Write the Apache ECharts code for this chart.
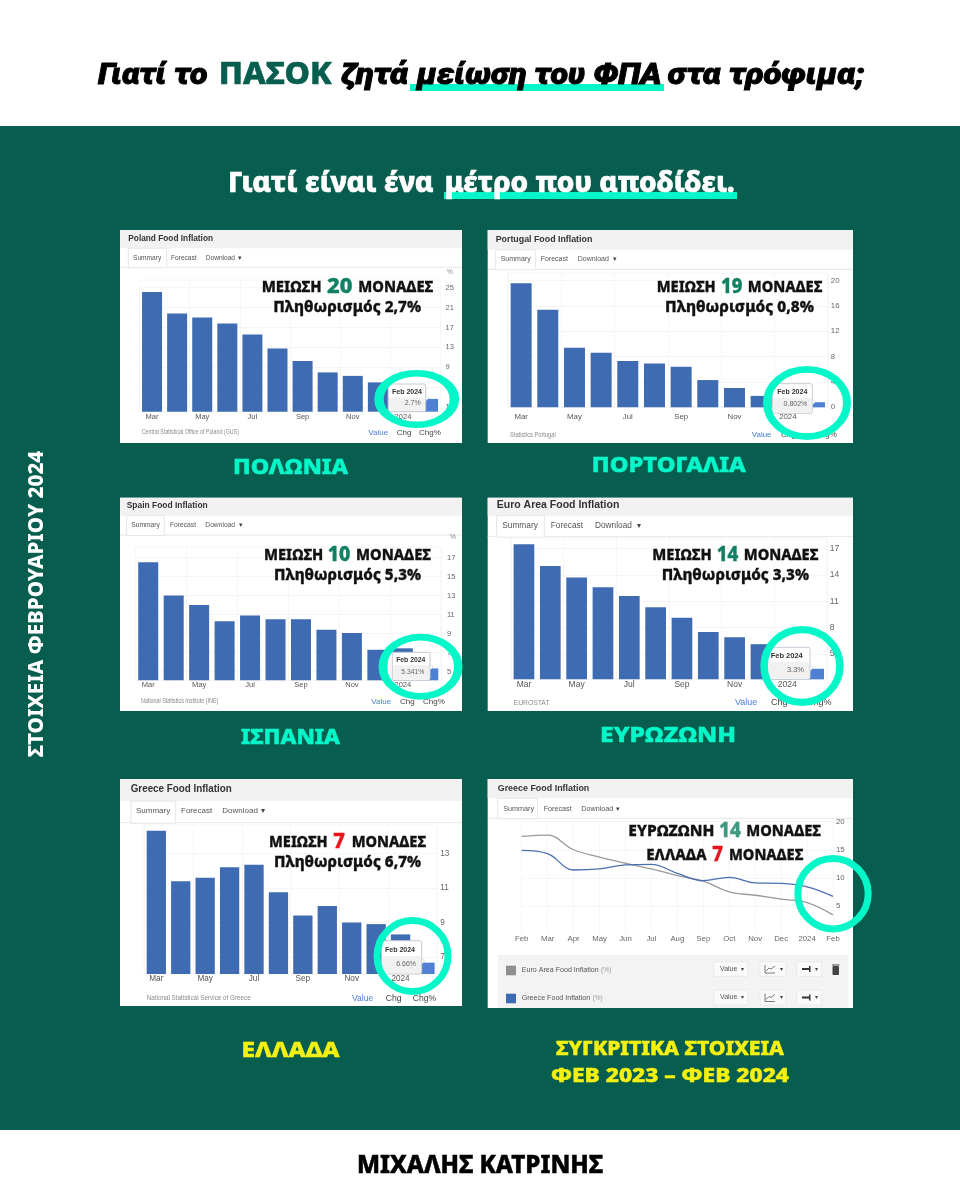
<!DOCTYPE html>
<html lang="el">
<head>
<meta charset="utf-8">
<title>Γιατί το ΠΑΣΟΚ ζητά μείωση του ΦΠΑ στα τρόφιμα;</title>
<style>
  html, body { margin: 0; padding: 0; background: #fff; }
  #chart { width: 960px; height: 1200px; }
</style>
</head>
<body>
<div id="chart"></div>
<script src="https://cdn.jsdelivr.net/npm/echarts@6/dist/echarts.min.js"></script>
<script>
// values
const barMonths = ["Mar", "Apr", "May", "Jun", "Jul", "Aug", "Sep", "Oct", "Nov", "Dec", "2024", "Feb"];
const lineMonths = ["Feb", "Mar", "Apr", "May", "Jun", "Jul", "Aug", "Sep", "Oct", "Nov", "Dec", "2024", "Feb"];

const polandValues = [24.1, 19.8, 19.0, 17.8, 15.6, 12.8, 10.3, 8.0, 7.3, 6.0, 3.9, 2.7];
const portugalValues = [19.6, 15.4, 9.4, 8.6, 7.3, 6.9, 6.4, 4.3, 3.05, 1.8, 1.4, 0.802];
const spainValues = [16.5, 13.0, 12.0, 10.3, 10.9, 10.5, 10.5, 9.4, 9.05, 7.3, 7.45, 5.341];
const euroValues = [17.5, 15.0, 13.7, 12.6, 11.6, 10.3, 9.1, 7.5, 6.9, 6.1, 5.6, 3.3];
const greeceValues = [14.33, 11.39, 11.6, 12.2, 12.35, 10.75, 9.4, 9.95, 9.0, 8.9, 8.3, 6.66];

const compareEuro = [17.4, 17.6, 15.0, 13.7, 12.6, 11.6, 10.4, 9.4, 7.5, 6.9, 6.2, 5.6, 3.4];
const compareGreece = [14.9, 14.3, 11.4, 11.6, 12.3, 12.4, 10.8, 9.5, 10.1, 9.1, 9.0, 8.4, 6.7];

const polandTicks = [1, 5, 9, 13, 17, 21, 25];
const portugalTicks = [0, 4, 8, 12, 16, 20];
const spainTicks = [5, 7, 9, 11, 13, 15, 17];
const euroTicks = [5, 8, 11, 14, 17];
const greeceTicks = [7, 9, 11, 13];
const compareTicks = [5, 10, 15, 20];

const GREEN = "#075e4e";
const TEAL = "#05f7c9";
const YELLOW = "#f4f012";
const BLUE = "#3e6bb1";
const GRIDLINE = "#f6f6f6";
const CAPS = "'Noto Sans', 'Open Sans', sans-serif";
const UI = "'Liberation Sans', Arial, sans-serif";

const graphics = [];
const grids = [];
const xAxes = [];
const yAxes = [];
const series = [];

const measureCtx = document.createElement("canvas").getContext("2d");

// text squeezed to the width it has in the picture
function fitText(text, x0, x1, cy, size, color, opts) {
  opts = opts || {};
  const weight = opts.weight || "bold";
  const style = opts.italic ? "italic" : "normal";
  const family = opts.family || CAPS;
  measureCtx.font = `${style} ${weight} ${size}px ${family}`;
  const w = measureCtx.measureText(text).width;
  graphics.push({
    type: "text",
    z: opts.z || 30,
    x: x0,
    y: cy,
    scaleX: (x1 - x0) / w,
    style: {
      text: text,
      fill: color,
      stroke: opts.heavy ? color : null,
      lineWidth: opts.heavy || 0,
      fontSize: size,
      fontWeight: weight,
      fontStyle: style,
      fontFamily: family,
      align: "left",
      verticalAlign: "middle",
    },
  });
}

function plainText(text, x, cy, size, color, opts) {
  opts = opts || {};
  graphics.push({
    type: "text",
    z: opts.z || 5,
    x: x,
    y: cy,
    style: {
      text: text,
      fill: color,
      fontSize: size,
      fontWeight: opts.weight || "normal",
      fontFamily: UI,
      align: opts.align || "left",
      verticalAlign: "middle",
    },
  });
}

function box(x0, y0, x1, y1, fill, z, stroke, r) {
  graphics.push({
    type: "rect",
    z: z,
    shape: { x: x0, y: y0, width: x1 - x0, height: y1 - y0, r: r || 0 },
    style: { fill: fill, stroke: stroke || null, lineWidth: stroke ? 1 : 0 },
  });
}

// circle squashed to an ellipse, so the stroke gets thin at top and bottom like the picture
function ring(cx, cy, rx, ry, lw) {
  graphics.push({
    type: "circle",
    z: 40,
    x: cx,
    y: cy,
    scaleY: ry / rx,
    shape: { cx: 0, cy: 0, r: rx - lw / 2 },
    style: { fill: null, stroke: TEAL, lineWidth: lw },
  });
}

// site chrome shared by all six screenshots
function chrome(p) {
  box(p.x0, p.y0, p.x1, p.y1, "#ffffff", -5);
  box(p.x0, p.y0, p.x1, p.rowY, "#f2f2f2", -4);
  graphics.push({
    type: "line",
    z: -3,
    shape: { x1: p.x0, y1: p.tabBottom, x2: p.x1, y2: p.tabBottom },
    style: { stroke: "#e6e6e6", lineWidth: 1 },
  });
  box(p.tabX0, p.rowY, p.tabX1, p.tabBottom + 0.5, "#ffffff", -2, "#e6e6e6");
  fitText(p.title, p.titleX0, p.titleX1, p.titleY, p.titleFont, "#333333", { family: UI, z: 5 });
  plainText("Summary", p.summaryX, p.tabY, p.tabFont, "#555555");
  plainText("Forecast", p.forecastX, p.tabY, p.tabFont, "#555555");
  plainText("Download", p.downloadX, p.tabY, p.tabFont, "#555555");
  plainText("▾", p.caretX, p.tabY, p.tabFont, "#444444", { align: "center" });
}

function footer(p) {
  fitText(p.source, p.sourceX0, p.sourceX1, p.footY, 7, "#8a8a8a", { family: UI, weight: "normal", z: 5 });
  plainText("Value", p.valueX, p.footY, p.footFont, "#4a7fd4");
  plainText("Chg", p.chgX, p.footY, p.footFont, "#444444");
  plainText("Chg%", p.chgPctX, p.footY, p.footFont, "#444444");
}

function tooltipBox(t) {
  box(t.x0, t.y0, t.x1, t.y1, "#ffffff", 20, "#c4cbd4", 2);
  box(t.x0 + 1, t.midY, t.x1 - 1, t.y1 - 1, "#f1f1f1", 21);
  graphics.push({
    type: "polygon",
    z: 21,
    shape: { points: [[t.x1, t.arrowY - 3], [t.x1 + 3, t.arrowY], [t.x1, t.arrowY + 3]] },
    style: { fill: "#ffffff", stroke: "#c4cbd4", lineWidth: 0.6 },
  });
  plainText("Feb 2024", t.titleX, t.titleY, t.font, "#333333", { z: 22, weight: "bold", align: "center" });
  plainText(t.label, t.valueX, t.valueY, t.font, "#666666", { z: 22, align: "right" });
}

// overlay caption: word, big number, word, then a second line
function caption(c) {
  fitText(c.word, c.wordX0, c.wordX1, c.y + 0.5, 15, "#111111", { weight: 800, heavy: 0.3 });
  fitText(c.num, c.numX0, c.numX1, c.y - 0.3, 21, c.numColor, { weight: 800, heavy: 0.4 });
  fitText("ΜΟΝΑΔΕΣ", c.unitX0, c.unitX1, c.y + 0.5, 15, "#111111", { weight: 800, heavy: 0.3 });
  if (c.line2) fitText(c.line2, c.line2X0, c.line2X1, c.line2Y + 0.5, 15, "#111111", { weight: 800, heavy: 0.3 });
}

function addBarPanel(values, ticks, p) {
  const i = grids.length;
  grids.push({
    show: true,
    backgroundColor: "transparent",
    borderColor: GRIDLINE,
    borderWidth: 1,
    left: p.gridLeft,
    top: p.gridTop,
    width: p.gridRight - p.gridLeft,
    height: p.gridBottom - p.gridTop,
  });
  xAxes.push({
    type: "category",
    gridIndex: i,
    data: barMonths,
    axisLine: { show: false },
    axisTick: { show: false },
    splitLine: { show: true, interval: 1, lineStyle: { color: GRIDLINE } },
    axisLabel: { interval: 1, fontSize: p.axisFont, color: "#555555", fontFamily: UI, margin: p.labelGap },
  });
  yAxes.push({
    type: "value",
    gridIndex: i,
    position: "right",
    min: p.min,
    max: p.max,
    axisLine: { show: false },
    axisTick: { show: false, customValues: ticks },
    splitLine: { lineStyle: { color: GRIDLINE } },
    axisLabel: {
      customValues: ticks,
      fontSize: p.axisFont,
      color: "#666666",
      fontFamily: UI,
      margin: p.tickGap,
      padding: [0, 0, 3, 0],
    },
  });
  series.push({
    type: "bar",
    name: p.title,
    xAxisIndex: i,
    yAxisIndex: i,
    barWidth: p.barWidth,
    itemStyle: { color: BLUE },
    data: values.map((v, k) => (k === values.length - 1 ? { value: v, itemStyle: { color: "#4f80d3" } } : v)),
  });
  chrome(p);
  footer(p);
}

// page frame
box(0, 126, 960, 1130, GREEN, -10);
const headItalic = { weight: 900, italic: true, family: "Roboto", heavy: 0.9 };
fitText("Γιατί το", 98, 207.6, 76, 30, "#000000", headItalic);
fitText("ΠΑΣΟΚ", 218.8, 331.5, 75.5, 31, GREEN, { weight: 800, heavy: 0.6 });
fitText("ζητά", 341, 408, 76, 30, "#000000", headItalic);
box(410, 84, 664, 91, TEAL, 1);
fitText("μείωση του ΦΠΑ", 416.7, 661.6, 76, 30, "#000000", headItalic);
fitText("στα τρόφιμα;", 667.8, 864.7, 76, 30, "#000000", headItalic);

fitText("Γιατί είναι ένα", 228, 433.6, 184, 29, "#ffffff", { weight: 800, heavy: 0.7 });
box(444, 192, 737, 199, TEAL, 1);
fitText("μέτρο που αποδίδει.", 444.8, 734.6, 184, 29, "#ffffff", { weight: 800, heavy: 0.7 });

graphics.push({
  type: "text",
  z: 30,
  x: 37,
  y: 604,
  rotation: Math.PI / 2,
  style: {
    text: "ΣΤΟΙΧΕΙΑ ΦΕΒΡΟΥΑΡΙΟΥ 2024",
    fill: "#ffffff",
    fontSize: 20.6,
    fontWeight: 800,
    fontFamily: CAPS,
    align: "center",
    verticalAlign: "middle",
  },
});

const place = { weight: 800, heavy: 0.5 };
fitText("ΠΟΛΩΝΙΑ", 233, 348, 468, 21, TEAL, place);
fitText("ΠΟΡΤΟΓΑΛΙΑ", 591.8, 745.7, 466, 21, TEAL, place);
fitText("ΙΣΠΑΝΙΑ", 241, 340, 738, 21, TEAL, place);
fitText("ΕΥΡΩΖΩΝΗ", 600, 736, 736, 21, TEAL, place);
fitText("ΕΛΛΑΔΑ", 241.5, 339.6, 1051, 21, YELLOW, place);
fitText("ΣΥΓΚΡΙΤΙΚΑ ΣΤΟΙΧΕΙΑ", 556, 784, 1050, 19, YELLOW, place);
fitText("ΦΕΒ 2023 – ΦΕΒ 2024", 551, 789, 1076.7, 19, YELLOW, place);
fitText("ΜΙΧΑΛΗΣ ΚΑΤΡΙΝΗΣ", 357, 603, 1166, 24, "#000000", place);

// Poland
addBarPanel(polandValues, polandTicks, {
  title: "Poland Food Inflation", source: "Central Statistical Office of Poland (GUS)",
  x0: 120, y0: 230, x1: 462, y1: 443, rowY: 248.3, tabBottom: 267.3, tabX0: 128.3, tabX1: 166.7,
  titleX0: 128.3, titleX1: 213, titleY: 238.7, titleFont: 8.6, tabY: 257.7, tabFont: 6.6,
  summaryX: 133, forecastX: 171, downloadX: 205.7, caretX: 240,
  sourceX0: 141.7, sourceX1: 239, footY: 432.3, footFont: 8, valueX: 368.3, chgX: 396.7, chgPctX: 419,
  gridLeft: 139.5, gridRight: 440.6, gridTop: 280, gridBottom: 411.7, min: 0.13, max: 26.5,
  barWidth: 20, axisFont: 7.5, labelGap: 1, tickGap: 5,
});
plainText("%", 447, 272, 6.5, "#888888");
caption({ word: "ΜΕΙΩΣΗ", wordX0: 261.7, wordX1: 321.7, num: "20", numX0: 327, numX1: 352.3, numColor: "#128064", unitX0: 358.3, unitX1: 433.3, y: 287.7,
  line2: "Πληθωρισμός 2,7%", line2X0: 273.3, line2X1: 421, line2Y: 307.3 });
tooltipBox({ x0: 388.3, y0: 384, x1: 425.7, y1: 411.7, midY: 397.5, arrowY: 398, titleX: 407, titleY: 391.7, valueX: 420.7, valueY: 403.3, font: 7, label: "2.7%" });
ring(416.7, 399, 42.5, 29, 9.5);

// Portugal
addBarPanel(portugalValues, portugalTicks, {
  title: "Portugal Food Inflation", source: "Statistics Portugal",
  x0: 487.7, y0: 230, x1: 853, y1: 443, rowY: 249.7, tabBottom: 269.3, tabX0: 495.7, tabX1: 535.7,
  titleX0: 495.7, titleX1: 592.3, titleY: 239.3, titleFont: 8.8, tabY: 259.3, tabFont: 7,
  summaryX: 500.7, forecastX: 540.7, downloadX: 577.7, caretX: 614.7,
  sourceX0: 510, sourceX1: 555.7, footY: 435, footFont: 8, valueX: 751.7, chgX: 781, chgPctX: 815,
  gridLeft: 507.8, gridRight: 827.8, gridTop: 273.3, gridBottom: 407.3, min: 0, max: 21.16,
  barWidth: 21, axisFont: 7.8, labelGap: 5.5, tickGap: 3,
});
caption({ word: "ΜΕΙΩΣΗ", wordX0: 656.7, wordX1: 715.7, num: "19", numX0: 721, numX1: 742.3, numColor: "#128064", unitX0: 747.7, unitX1: 822.3, y: 287.7,
  line2: "Πληθωρισμός 0,8%", line2X0: 665, line2X1: 814, line2Y: 307.3 });
tooltipBox({ x0: 772.3, y0: 383.7, x1: 812.3, y1: 413.3, midY: 398, arrowY: 402, titleX: 792.3, titleY: 391.7, valueX: 807.3, valueY: 404, font: 7, label: "0.802%" });
ring(807, 403, 44, 37, 8);

// Spain
addBarPanel(spainValues, spainTicks, {
  title: "Spain Food Inflation", source: "National Statistics Institute (INE)",
  x0: 120, y0: 497.7, x1: 462, y1: 711, rowY: 515.7, tabBottom: 535, tabX0: 126.7, tabX1: 164.3,
  titleX0: 126.7, titleX1: 207.7, titleY: 505.7, titleFont: 8.7, tabY: 525, tabFont: 6.7,
  summaryX: 131.3, forecastX: 170, downloadX: 205.3, caretX: 241,
  sourceX0: 141, sourceX1: 218.3, footY: 701.5, footFont: 8, valueX: 371.3, chgX: 400, chgPctX: 423,
  gridLeft: 135.5, gridRight: 441, gridTop: 547, gridBottom: 680.3, min: 4.09, max: 18.1,
  barWidth: 20, axisFont: 7.5, labelGap: 0.5, tickGap: 6,
});
plainText("%", 450, 537.7, 6.5, "#888888");
caption({ word: "ΜΕΙΩΣΗ", wordX0: 264, wordX1: 323.3, num: "10", numX0: 327.7, numX1: 350.3, numColor: "#128064", unitX0: 356, unitX1: 431, y: 555.7,
  line2: "Πληθωρισμός 5,3%", line2X0: 274, line2X1: 421, line2Y: 575.3 });
tooltipBox({ x0: 392.3, y0: 652.3, x1: 430, y1: 680.3, midY: 665, arrowY: 667, titleX: 410.7, titleY: 660, valueX: 424.3, valueY: 671.7, font: 6.8, label: "5.341%" });
ring(420.5, 666.7, 42, 33, 8.5);

// Euro area
addBarPanel(euroValues, euroTicks, {
  title: "Euro Area Food Inflation", source: "EUROSTAT",
  x0: 487.7, y0: 497.7, x1: 853, y1: 711, rowY: 515.7, tabBottom: 536.7, tabX0: 496.7, tabX1: 544.3,
  titleX0: 496.7, titleX1: 619.3, titleY: 505, titleFont: 10.6, tabY: 525.7, tabFont: 8.3,
  summaryX: 502.3, forecastX: 550.7, downloadX: 595, caretX: 639.3,
  sourceX0: 513.7, sourceX1: 549.4, footY: 703, footFont: 9, valueX: 735, chgX: 771, chgPctX: 807,
  gridLeft: 510.8, gridRight: 826.8, gridTop: 538, gridBottom: 679.3, min: 2.1, max: 18.2,
  barWidth: 20.7, axisFont: 8.5, labelGap: 1, tickGap: 3,
});
caption({ word: "ΜΕΙΩΣΗ", wordX0: 652.3, wordX1: 711.7, num: "14", numX0: 716.7, numX1: 738.3, numColor: "#128064", unitX0: 743.7, unitX1: 818.3, y: 555.7,
  line2: "Πληθωρισμός 3,3%", line2X0: 661.7, line2X1: 809, line2Y: 575.3 });
tooltipBox({ x0: 767.3, y0: 647.3, x1: 810, y1: 679.3, midY: 662, arrowY: 668, titleX: 786.7, titleY: 656.3, valueX: 804, valueY: 670, font: 7.5, label: "3.3%" });
ring(802, 666, 41.7, 40, 7.5);

// Greece
addBarPanel(greeceValues, greeceTicks, {
  title: "Greece Food Inflation", source: "National Statistical Service of Greece",
  x0: 120, y0: 779, x1: 462, y1: 1006, rowY: 801, tabBottom: 822.7, tabX0: 131, tabX1: 175.7,
  titleX0: 130.7, titleX1: 231.7, titleY: 789.3, titleFont: 10.4, tabY: 811, tabFont: 8,
  summaryX: 136, forecastX: 181, downloadX: 222.3, caretX: 263,
  sourceX0: 146.7, sourceX1: 250.7, footY: 998.3, footFont: 8.6, valueX: 352, chgX: 385.7, chgPctX: 412.7,
  gridLeft: 144.1, gridRight: 437.2, gridTop: 825, gridBottom: 974, min: 6, max: 14.66,
  barWidth: 19.3, axisFont: 8.2, labelGap: 1, tickGap: 3,
});
caption({ word: "ΜΕΙΩΣΗ", wordX0: 269, wordX1: 327.7, num: "7", numX0: 333.3, numX1: 345, numColor: "#e8141c", unitX0: 351.7, unitX1: 426, y: 842.7,
  line2: "Πληθωρισμός 6,7%", line2X0: 274, line2X1: 421, line2Y: 862.3 });
tooltipBox({ x0: 381.7, y0: 940.7, x1: 421.7, y1: 974, midY: 956, arrowY: 961, titleX: 400, titleY: 950, valueX: 416, valueY: 964.3, font: 7, label: "6.66%" });
ring(412.5, 956, 39, 39, 7);

// Comparison line chart
const cmp = {
  title: "Greece Food Inflation",
  x0: 487.7, y0: 779, x1: 853, y1: 1008, rowY: 798.3, tabBottom: 818.3, tabX0: 497.7, tabX1: 537.7,
  titleX0: 497.7, titleX1: 589.3, titleY: 788.3, titleFont: 9.4, tabY: 808.7, tabFont: 7.2,
  summaryX: 503.3, forecastX: 543.7, downloadX: 581.3, caretX: 618.3,
};
chrome(cmp);
const cmpIndex = grids.length;
grids.push({ left: 521.7, top: 821.7, width: 311.3, height: 112.3 });
xAxes.push({
  type: "category",
  gridIndex: cmpIndex,
  boundaryGap: false,
  data: lineMonths,
  axisLine: { show: false },
  axisTick: { show: false },
  splitLine: { show: true, lineStyle: { color: GRIDLINE } },
  axisLabel: { interval: 0, fontSize: 7.8, color: "#666666", fontFamily: UI, margin: 1 },
});
yAxes.push({
  type: "value",
  gridIndex: cmpIndex,
  position: "right",
  min: 0,
  max: 20,
  axisLine: { show: false },
  axisTick: { show: false, customValues: compareTicks },
  splitLine: { lineStyle: { color: GRIDLINE } },
  axisLabel: { customValues: compareTicks, fontSize: 7.8, color: "#666666", fontFamily: UI, margin: 3, padding: [0, 0, 3, 0] },
});
series.push({
  type: "line", name: "Euro Area Food Inflation", xAxisIndex: cmpIndex, yAxisIndex: cmpIndex,
  data: compareEuro, smooth: 0.4, showSymbol: false, lineStyle: { color: "#9a9a9a", width: 1.3 },
});
series.push({
  type: "line", name: "Greece Food Inflation", xAxisIndex: cmpIndex, yAxisIndex: cmpIndex,
  data: compareGreece, smooth: 0.4, showSymbol: false, lineStyle: { color: "#4a6fb2", width: 1.3 },
});

// legend rows under the line chart
box(498, 955, 848, 1008, "#f3f3f3", 1);
box(506, 965.7, 516, 975.3, "#8f8f8f", 2);
box(506, 993.7, 516, 1003.3, "#3e6bb1", 2);
fitText("Euro Area Food Inflation", 521.7, 598.7, 969.7, 8, "#555555", { family: UI, weight: "normal", z: 3 });
plainText("(%)", 601, 970.2, 6.5, "#999999", { z: 3 });
fitText("Greece Food Inflation", 521.7, 590.3, 998, 8, "#555555", { family: UI, weight: "normal", z: 3 });
plainText("(%)", 592.5, 998.5, 6.5, "#999999", { z: 3 });
[[961.7, 976.3], [990, 1005]].forEach(function (row) {
  const cy = (row[0] + row[1]) / 2;
  box(714, row[0], 748, row[1], "#fafafa", 2, "#e9e9e9");
  plainText("Value", 720, cy, 7, "#555555", { z: 3 });
  plainText("▾", 742, cy, 6, "#444444", { z: 3, align: "center" });
  box(760, row[0], 786, row[1], "#fafafa", 2, "#e9e9e9");
  graphics.push({
    type: "polyline",
    z: 3,
    shape: { points: [[765, cy - 4], [765, cy + 4], [775, cy + 4]] },
    style: { stroke: "#555555", lineWidth: 0.8, fill: null },
  });
  graphics.push({
    type: "polyline",
    z: 3,
    shape: { points: [[766, cy + 2], [769, cy - 1], [771, cy], [775, cy - 3]] },
    style: { stroke: "#555555", lineWidth: 0.8, fill: null },
  });
  plainText("▾", 781, cy, 6, "#444444", { z: 3, align: "center" });
  box(796.7, row[0], 821.7, row[1], "#fafafa", 2, "#e9e9e9");
  box(802, cy - 1, 809, cy + 1, "#333333", 3);
  box(809, cy - 3, 810.5, cy + 3, "#333333", 3);
  plainText("▾", 816, cy, 6, "#444444", { z: 3, align: "center" });
});
box(832.5, 966, 839, 975, "#444444", 3, null, 1);
box(832, 964.5, 839.5, 965.5, "#444444", 3);

caption({ word: "ΕΥΡΩΖΩΝΗ", wordX0: 628.3, wordX1: 714.3, num: "14", numX0: 719, numX1: 741, numColor: "#3d9980", unitX0: 746.3, unitX1: 821, y: 831 });
caption({ word: "ΕΛΛΑΔΑ", wordX0: 646.3, wordX1: 706.7, num: "7", numX0: 712.3, numX1: 723, numColor: "#e8141c", unitX0: 729, unitX1: 803.3, y: 855 });
ring(833, 893.7, 38.7, 38.7, 7);

var myChart = echarts.init(document.getElementById("chart"));
myChart.setOption({
  animation: false,
  backgroundColor: "#ffffff",
  textStyle: { fontFamily: UI },
  tooltip: { show: false },
  grid: grids,
  xAxis: xAxes,
  yAxis: yAxes,
  series: series,
  graphic: { elements: graphics },
});
</script>
</body>
</html>
